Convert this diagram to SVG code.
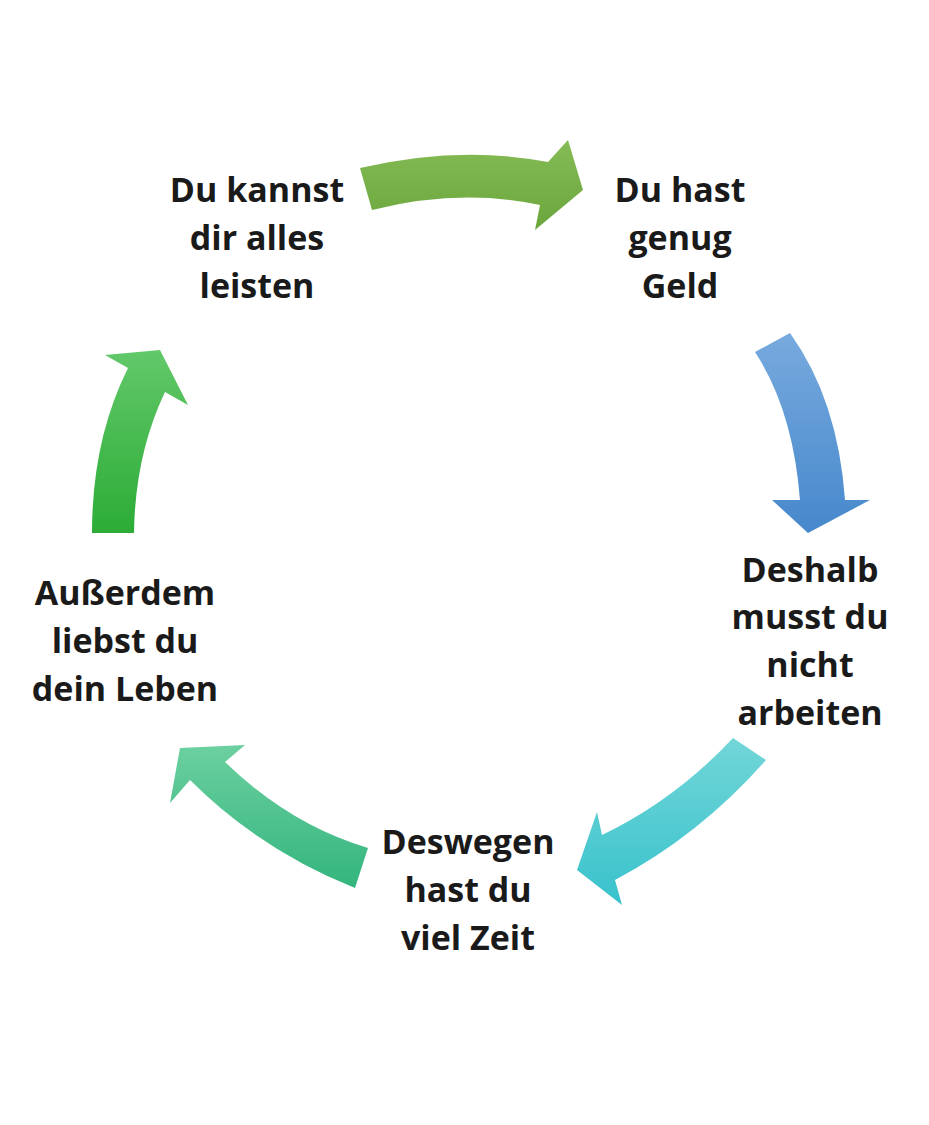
<svg xmlns="http://www.w3.org/2000/svg" width="929" height="1125" viewBox="0 0 929 1125">
<style>
text{font-family:"Open Sans","Liberation Sans",sans-serif;font-weight:bold;font-size:34px;fill:#1a1a1a;text-anchor:middle}
</style>
<defs>
<linearGradient id="g1" x1="0" y1="0" x2="0" y2="1"><stop offset="0" stop-color="#85bb55"/><stop offset="1" stop-color="#6aa63c"/></linearGradient>
<linearGradient id="g2" x1="0" y1="0" x2="0" y2="1"><stop offset="0" stop-color="#78aade"/><stop offset="1" stop-color="#4688cc"/></linearGradient>
<linearGradient id="g3" x1="0" y1="0" x2="0" y2="1"><stop offset="0" stop-color="#72d6d8"/><stop offset="1" stop-color="#38c2cc"/></linearGradient>
<linearGradient id="g4" x1="0" y1="0" x2="0" y2="1"><stop offset="0" stop-color="#6cd0a0"/><stop offset="1" stop-color="#34b57e"/></linearGradient>
<linearGradient id="g5" x1="0" y1="0" x2="0" y2="1"><stop offset="0" stop-color="#62c86a"/><stop offset="1" stop-color="#2cac36"/></linearGradient>
</defs>
<g id="connectors">
<path fill="url(#g1)" d="M360,168 Q460,145 548,162 L568,140 L583,190 L535,230 L540,205 Q460,188 372,210 Z"/>
<path fill="url(#g2)" d="M790,333 Q838,400 845,500 L870,500 L808,533 L772,500 L800,500 Q793,410 755,352 Z"/>
<path fill="url(#g3)" d="M766,760 Q700,835 615,880 L622,905 L577,870 L597,812 L602,835 Q675,800 733,738 Z"/>
<path fill="url(#g4)" d="M355,888 Q260,850 190,780 L170,803 L180,748 L245,745 L225,762 Q290,825 368,848 Z"/>
<path fill="url(#g5)" d="M92,533 Q92,440 128,368 L105,355 L160,350 L188,405 L165,392 Q135,455 134,533 Z"/>
</g>
<g id="n1"><text x="257" y="202">Du kannst</text><text x="257" y="250">dir alles</text><text x="257" y="298">leisten</text></g>
<g id="n2"><text x="680" y="202">Du hast</text><text x="680" y="250">genug</text><text x="680" y="298">Geld</text></g>
<g id="n3"><text x="810" y="582">Deshalb</text><text x="810" y="629">musst du</text><text x="810" y="677">nicht</text><text x="810" y="725">arbeiten</text></g>
<g id="n4"><text x="468" y="854">Deswegen</text><text x="468" y="902">hast du</text><text x="468" y="950">viel Zeit</text></g>
<g id="n5"><text x="125" y="605">Außerdem</text><text x="125" y="653">liebst du</text><text x="125" y="701">dein Leben</text></g>
</svg>
